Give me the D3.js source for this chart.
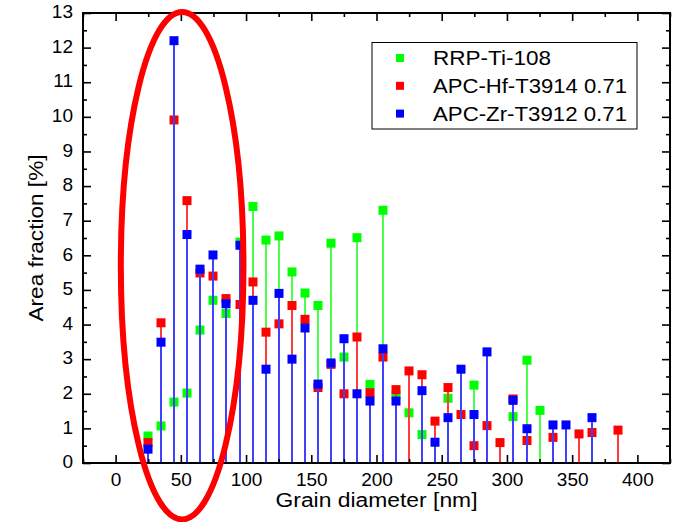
<!DOCTYPE html>
<html>
<head>
<meta charset="utf-8">
<script src="https://cdn.jsdelivr.net/npm/d3@7"></script>
<style>
  body { margin: 0; background: #fff; }
  svg { display: block; font-family: "Liberation Sans", Arial, sans-serif; }
</style>
</head>
<body>
<svg id="chart" width="680" height="522"></svg>
<script>
// grain diameter bins (nm)
const diameters = [25, 35, 45, 55, 65, 75, 85, 95, 105, 115, 125, 135, 145, 155, 165, 175, 185, 195,
  205, 215, 225, 235, 245, 255, 265, 275, 285, 295, 305, 315, 325, 335, 345, 355, 365, 375, 385];

// area fraction [%] per sample, null = no grains in that bin
const rrpTi = [0.78, 1.07, 1.76, 2.02, 3.84, 4.70, 4.32, 6.38, 7.41, 6.44, 6.56, 5.52, 4.91, 4.55,
  6.35, 3.06, 6.51, 2.27, 7.30, 1.96, 1.45, 0.82, null, 1.87, null, 2.25, null, null, 1.34, 2.97,
  1.52, null, null, null, null, null, null];
const apcHf = [0.59, 4.05, 9.91, 7.58, 5.49, 5.40, 4.75, 4.58, 5.23, 3.78, 4.02, 4.55, 4.15, 2.18,
  2.85, 2.00, 3.64, 2.03, 3.06, 2.12, 2.66, 2.55, 1.21, 2.18, 1.40, 0.50, 1.08, 0.59, 1.85, 0.65,
  null, 0.74, null, 0.84, 0.88, null, 0.95];
const apcZr = [0.40, 3.49, 12.2, 6.60, 5.60, 6.01, 4.60, 6.29, 4.70, 2.71, 4.90, 3.00, 3.90, 2.28,
  2.89, 3.59, 2.00, 1.79, 3.30, 1.79, null, 2.09, 0.60, 1.31, 2.71, 1.40, 3.21, null, 1.81, 0.99,
  null, 1.10, 1.10, null, 1.31, null, null];

const seriesNames = ["RRP-Ti-108", "APC-Hf-T3914 0.71", "APC-Zr-T3912 0.71"];
const seriesColors = ["#00ff00", "#ff0000", "#0000ff"];
const stemColors = ["#4dff4d", "#ff3b3b", "#4040ff"];
const seriesValues = [rrpTi, apcHf, apcZr];

const xMajor = [0, 50, 100, 150, 200, 250, 300, 350, 400];
const yMajor = d3.range(0, 14, 1);

// highlight ellipse around the small-grain peak (data units)
const highlight = { cx: 51, cy: 5.7, rx: 47, ry: 7.33 };

const svg = d3.select("#chart");
const L = 83, R = 670, T = 13, B = 463;

const x = d3.scaleLinear().domain([-25, 425]).range([L, R]);
const y = d3.scaleLinear().domain([0, 13]).range([B, T]);
const px = d => Math.round(x(d));

const xMinor = d3.range(-25, 426, 25).filter(v => v % 50 !== 0);
const yMinor = d3.range(0.5, 13, 1);

// data
const plot = svg.append("g");
seriesValues.forEach((vals, si) => {
  const pts = diameters.map((d, i) => ({ d: d, v: vals[i] })).filter(p => p.v != null);
  const g = plot.append("g");
  g.selectAll("line").data(pts).enter().append("line")
    .attr("x1", p => px(p.d)).attr("x2", p => px(p.d))
    .attr("y1", y(0)).attr("y2", p => y(p.v))
    .attr("stroke", stemColors[si])
    .attr("stroke-width", 2)
    .attr("shape-rendering", "crispEdges");
  g.selectAll("rect").data(pts).enter().append("rect")
    .attr("x", p => px(p.d) - 4.5).attr("y", p => y(p.v) - 4.5)
    .attr("width", 9).attr("height", 9)
    .attr("fill", seriesColors[si]);
});

// axes, ticks pointing inward
const axisStyle = g => {
  g.select(".domain").remove();
  g.selectAll(".tick line").attr("stroke", "#000").attr("stroke-width", 1.6);
  g.selectAll("text").attr("font-size", 19).attr("fill", "#000");
};

svg.append("g").attr("transform", `translate(0,${B})`)
  .call(d3.axisBottom(x).tickValues(xMajor).tickSize(-8).tickPadding(10)).call(axisStyle);
svg.append("g").attr("transform", `translate(0,${B})`)
  .call(d3.axisBottom(x).tickValues(xMinor).tickSize(-4).tickFormat("")).call(axisStyle);
svg.append("g").attr("transform", `translate(0,${T})`)
  .call(d3.axisTop(x).tickValues(xMajor).tickSize(-8).tickFormat("")).call(axisStyle);
svg.append("g").attr("transform", `translate(0,${T})`)
  .call(d3.axisTop(x).tickValues(xMinor).tickSize(-4).tickFormat("")).call(axisStyle);

svg.append("g").attr("transform", `translate(${L},0)`)
  .call(d3.axisLeft(y).tickValues(yMajor).tickSize(-8).tickPadding(10)).call(axisStyle)
  .selectAll("text").attr("dy", "0.25em");
svg.append("g").attr("transform", `translate(${L},0)`)
  .call(d3.axisLeft(y).tickValues(yMinor).tickSize(-4).tickFormat("")).call(axisStyle);
svg.append("g").attr("transform", `translate(${R},0)`)
  .call(d3.axisRight(y).tickValues(yMajor).tickSize(-8).tickFormat("")).call(axisStyle);
svg.append("g").attr("transform", `translate(${R},0)`)
  .call(d3.axisRight(y).tickValues(yMinor).tickSize(-4).tickFormat("")).call(axisStyle);

svg.append("rect")
  .attr("x", L).attr("y", T).attr("width", R - L).attr("height", B - T)
  .attr("fill", "none").attr("stroke", "#000").attr("stroke-width", 2);

// axis titles
svg.append("text")
  .attr("x", (L + R) / 2).attr("y", 507)
  .attr("text-anchor", "middle").attr("font-size", 20)
  .attr("textLength", 202).attr("lengthAdjust", "spacingAndGlyphs")
  .text("Grain diameter [nm]");
svg.append("text")
  .attr("transform", `translate(43,${(T + B) / 2}) rotate(-90)`)
  .attr("text-anchor", "middle").attr("font-size", 20.5)
  .attr("textLength", 167).attr("lengthAdjust", "spacingAndGlyphs")
  .text("Area fraction [%]");

// legend
const leg = svg.append("g");
leg.append("rect")
  .attr("x", 372).attr("y", 42.5).attr("width", 265).attr("height", 86.5)
  .attr("fill", "#fff").attr("stroke", "#000").attr("stroke-width", 1);
seriesNames.forEach((name, i) => {
  const by = 65 + i * 27.8;
  leg.append("rect")
    .attr("x", 396).attr("y", by - 11).attr("width", 8).attr("height", 8)
    .attr("fill", seriesColors[i]);
  leg.append("text")
    .attr("x", 433).attr("y", by)
    .attr("font-size", 20.5).attr("fill", "#000")
    .attr("textLength", name.length > 12 ? 194 : 118).attr("lengthAdjust", "spacingAndGlyphs")
    .text(name);
});

// red highlight ellipse
svg.append("ellipse")
  .attr("cx", x(highlight.cx)).attr("cy", y(highlight.cy))
  .attr("rx", x(highlight.cx + highlight.rx) - x(highlight.cx))
  .attr("ry", y(0) - y(highlight.ry))
  .attr("fill", "none").attr("stroke", "#ff0000").attr("stroke-width", 6);
</script>
</body>
</html>
